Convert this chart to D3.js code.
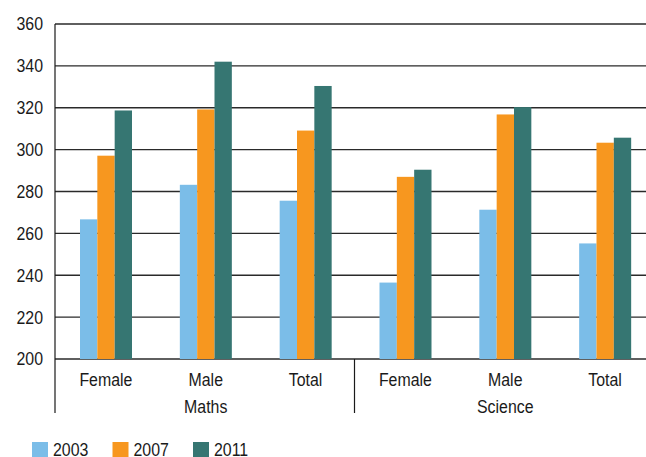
<!DOCTYPE html>
<html>
<head>
<meta charset="utf-8">
<script src="https://cdn.jsdelivr.net/npm/d3@7"></script>
<style>
  body { margin: 0; background: #fff; }
  text { font-family: "Liberation Sans Narrow", "Liberation Sans", Arial, sans-serif; fill: #1a1a1a; font-size: 18.5px; }
</style>
</head>
<body>
<div id="chart-area"></div>
<script>
// data
var subjects = ["Maths", "Science"];
var groups = ["Female", "Male", "Total"];
var years = ["2003", "2007", "2011"];
var colors = ["#7bbde8", "#f7971f", "#367672"];
var yTicks = [200, 220, 240, 260, 280, 300, 320, 340, 360];

// one entry per subject/group, in order Maths F/M/T, Science F/M/T
var values2003 = [266.7, 283.2, 275.6, 236.5, 271.3, 255.2];
var values2007 = [297.1, 319.2, 309.1, 287.0, 316.8, 303.3];
var values2011 = [318.7, 342.0, 330.4, 290.4, 320.3, 305.7];

var width = 646, height = 457;
var margin = { left: 55, right: 654, top: 24, bottom: 359 };
var squeeze = 0.86; // narrow the font horizontally

var svg = d3.select("#chart-area")
    .append("svg")
        .attr("width", width)
        .attr("height", height);

var cats = [];
subjects.forEach(function(s) {
    groups.forEach(function(g) { cats.push(s + "-" + g); });
});

var rows = cats.map(function(c, i) {
    return { cat: c, vals: [values2003[i], values2007[i], values2011[i]] };
});

var x0 = d3.scaleBand()
    .domain(cats)
    .range([margin.left, margin.right])
    .padding(0);

var x1 = d3.scaleBand()
    .domain(years)
    .range([25, 77])
    .padding(0);

var y = d3.scaleLinear()
    .domain([200, 360])
    .range([margin.bottom, margin.top]);

function place(x, yy) {
    return "translate(" + x + "," + yy + ") scale(" + squeeze + ",1)";
}

// gridlines
svg.append("g")
    .selectAll("line")
    .data(yTicks)
    .join("line")
        .attr("x1", margin.left)
        .attr("x2", width)
        .attr("y1", d => y(d))
        .attr("y2", d => y(d))
        .attr("stroke", "#2a2a2a")
        .attr("stroke-width", 1.4);

// bars
var grp = svg.append("g")
    .selectAll("g")
    .data(rows)
    .join("g")
        .attr("transform", d => "translate(" + x0(d.cat) + ",0)");

grp.selectAll("rect")
    .data(d => d.vals.map((v, j) => ({ year: years[j], value: v, j: j })))
    .join("rect")
        .attr("x", d => x1(d.year))
        .attr("width", x1.bandwidth())
        .attr("y", d => y(d.value))
        .attr("height", d => y(200) - y(d.value))
        .attr("fill", d => colors[d.j]);

// y axis labels
svg.append("g")
    .selectAll("text")
    .data(yTicks)
    .join("text")
        .attr("transform", d => place(43, y(d)))
        .attr("dy", "0.35em")
        .attr("text-anchor", "end")
        .text(d => d);

// axis line + separator
svg.append("line")
    .attr("x1", margin.left).attr("x2", margin.left)
    .attr("y1", margin.top).attr("y2", 413)
    .attr("stroke", "#1a1a1a").attr("stroke-width", 1.2);

svg.append("line")
    .attr("x1", x0(cats[3])).attr("x2", x0(cats[3]))
    .attr("y1", margin.bottom).attr("y2", 413)
    .attr("stroke", "#1a1a1a").attr("stroke-width", 1.2);

// category labels
svg.append("g")
    .selectAll("text")
    .data(cats)
    .join("text")
        .attr("transform", d => place(x0(d) + x0.bandwidth() / 2 + 1, 386))
        .attr("text-anchor", "middle")
        .text(d => d.split("-")[1]);

svg.append("g")
    .selectAll("text")
    .data(subjects)
    .join("text")
        .attr("transform", (d, i) => place(x0(cats[i * 3 + 1]) + x0.bandwidth() / 2 + 1, 413))
        .attr("text-anchor", "middle")
        .text(d => d);

// legend
var legend = svg.append("g")
    .selectAll("g")
    .data(years)
    .join("g")
        .attr("transform", (d, i) => "translate(" + (32 + i * 80.5) + ",442)");

legend.append("rect")
    .attr("width", 16)
    .attr("height", 15)
    .attr("fill", (d, i) => colors[i]);

legend.append("text")
    .attr("transform", place(21, 14))
    .text(d => d);
</script>
</body>
</html>
